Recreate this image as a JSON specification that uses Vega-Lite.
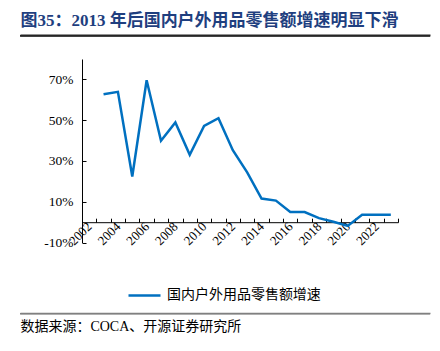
{
  "$schema": "https://vega.github.io/schema/vega-lite/v6.json",
  "padding": {"left": 20, "top": 12, "right": 0, "bottom": 0},
  "width": 316,
  "height": 183.6,
  "config": {"view": {"stroke": null}, "axis": {"grid": false}},
  "resolve": {"scale": {"x": "independent"}, "axis": {"x": "independent"}},
  "layer": [
    {
      "data": {"values": [
        {"year": 2003, "growth": 0.627, "series": "国内户外用品零售额增速"},
        {"year": 2004, "growth": 0.639, "series": "国内户外用品零售额增速"},
        {"year": 2005, "growth": 0.224, "series": "国内户外用品零售额增速"},
        {"year": 2006, "growth": 0.696, "series": "国内户外用品零售额增速"},
        {"year": 2007, "growth": 0.399, "series": "国内户外用品零售额增速"},
        {"year": 2008, "growth": 0.489, "series": "国内户外用品零售额增速"},
        {"year": 2009, "growth": 0.330, "series": "国内户外用品零售额增速"},
        {"year": 2010, "growth": 0.472, "series": "国内户外用品零售额增速"},
        {"year": 2011, "growth": 0.510, "series": "国内户外用品零售额增速"},
        {"year": 2012, "growth": 0.353, "series": "国内户外用品零售额增速"},
        {"year": 2013, "growth": 0.244, "series": "国内户外用品零售额增速"},
        {"year": 2014, "growth": 0.116, "series": "国内户外用品零售额增速"},
        {"year": 2015, "growth": 0.106, "series": "国内户外用品零售额增速"},
        {"year": 2016, "growth": 0.050, "series": "国内户外用品零售额增速"},
        {"year": 2017, "growth": 0.050, "series": "国内户外用品零售额增速"},
        {"year": 2018, "growth": 0.020, "series": "国内户外用品零售额增速"},
        {"year": 2019, "growth": 0.002, "series": "国内户外用品零售额增速"},
        {"year": 2020, "growth": -0.018, "series": "国内户外用品零售额增速"},
        {"year": 2021, "growth": 0.036, "series": "国内户外用品零售额增速"},
        {"year": 2022, "growth": 0.036, "series": "国内户外用品零售额增速"},
        {"year": 2023, "growth": 0.036, "series": "国内户外用品零售额增速"}
      ]},
      "mark": {"type": "line", "strokeWidth": 2.5},
      "encoding": {
        "x": {"field": "year", "type": "ordinal",
          "scale": {"domain": [2002, 2003, 2004, 2005, 2006, 2007, 2008, 2009, 2010, 2011, 2012, 2013, 2014, 2015, 2016, 2017, 2018, 2019, 2020, 2021, 2022, 2023], "paddingInner": 0, "paddingOuter": 0},
          "axis": {"orient": "bottom", "title": null, "offset": -20.4, "tickBand": "extent", "tickSize": -4, "tickColor": "#000000", "domainColor": "#000000",
            "labelExpr": "datum.value % 2 == 0 ? datum.label : ''", "labelAngle": -45, "labelAlign": "right", "labelBaseline": "middle",
            "labelFont": "Liberation Serif", "labelFontSize": 13, "labelColor": "#000000", "labelPadding": 6}},
        "y": {"field": "growth", "type": "quantitative",
          "scale": {"domain": [-0.1, 0.8], "nice": false, "zero": false},
          "axis": {"title": null, "values": [-0.1, 0, 0.1, 0.2, 0.3, 0.4, 0.5, 0.6, 0.7, 0.8], "format": ".0%", "labelExpr": "replace(datum.label, '\u2212', '-')", "labelOverlap": false, "tickSize": -4, "tickColor": "#000000", "domainColor": "#000000",
            "labelFont": "Liberation Serif", "labelFontSize": 13.5, "labelColor": "#000000", "labelPadding": 13}},
        "color": {"field": "series", "type": "nominal", "scale": {"range": ["#0070C0"]},
          "legend": {"title": null, "orient": "none", "legendX": 45, "legendY": 219, "symbolType": "stroke", "symbolSize": 1024, "symbolStrokeWidth": 2.5,
            "labelFont": "Noto Sans CJK SC", "labelFontSize": 14, "labelColor": "#000000", "labelOffset": 5}}
      }
    },
    {
      "data": {"values": [{"a": 0, "b": 1, "top": 0.9176, "bottom": 0.9093}]},
      "mark": {"type": "rect", "color": "#262626"},
      "encoding": {
        "x": {"field": "a", "type": "quantitative", "scale": {"domain": [0, 1], "range": [-62, 348]},
          "axis": {"orient": "top", "offset": 24, "domain": true, "domainColor": "#262626", "domainOpacity": 1, "domainWidth": 2, "ticks": false, "labels": false,
            "title": "图35：2013 年后国内户外用品零售额增速明显下滑", "titleAnchor": "start", "titleAlign": "left", "titleBaseline": "alphabetic", "titlePadding": 9,
            "titleFont": "Liberation Serif, Noto Sans CJK SC", "titleFontSize": 17, "titleFontWeight": "bold", "titleColor": "#1F3F7F"}},
        "x2": {"field": "b"},
        "y": {"field": "top", "type": "quantitative"},
        "y2": {"field": "bottom"}
      }
    },
    {
      "data": {"values": [{"a": 0, "b": 1, "top": -0.4451, "bottom": -0.4525}]},
      "mark": {"type": "rect", "color": "#808080"},
      "encoding": {
        "x": {"field": "a", "type": "quantitative", "scale": {"domain": [0, 1], "range": [-62, 348]},
          "axis": {"orient": "bottom", "offset": 70.4, "domain": true, "domainColor": "#808080", "domainOpacity": 1, "domainWidth": 1.5, "ticks": false, "labels": false,
            "title": "数据来源：COCA、开源证券研究所", "titleAnchor": "start", "titleAlign": "left", "titleBaseline": "top", "titlePadding": 7,
            "titleFont": "Liberation Serif, Noto Sans CJK SC", "titleFontSize": 14, "titleFontWeight": "normal", "titleColor": "#000000"}},
        "x2": {"field": "b"},
        "y": {"field": "top", "type": "quantitative"},
        "y2": {"field": "bottom"}
      }
    }
  ]
}
